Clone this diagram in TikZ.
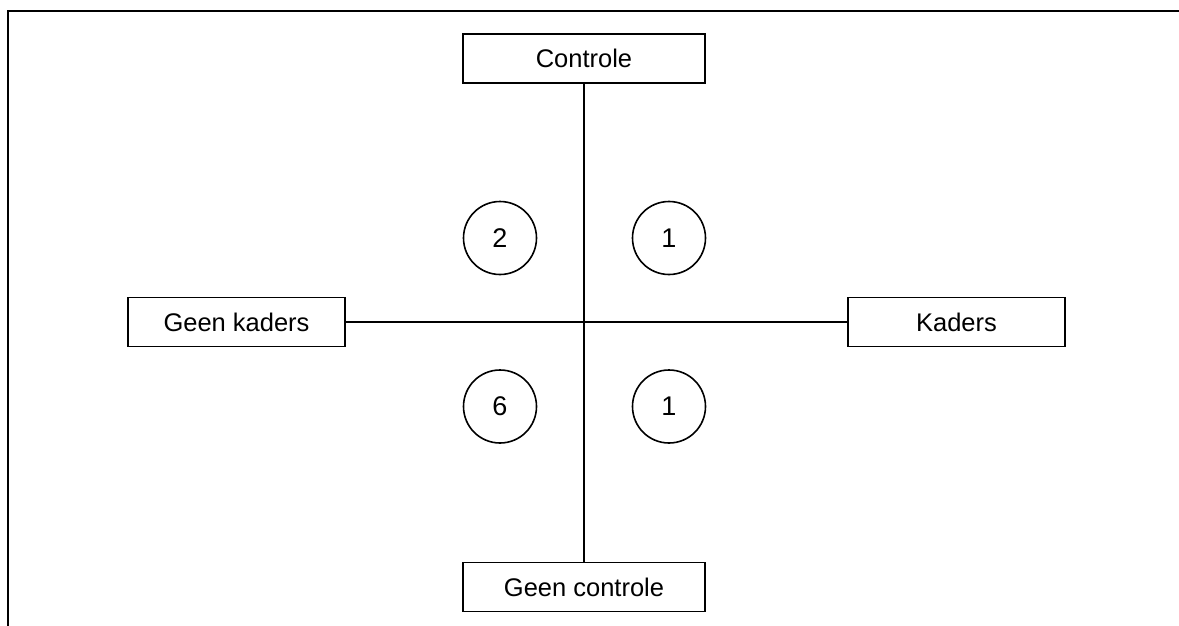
\documentclass[tikz,border=0pt]{standalone}
\usepackage{fontspec}
\setmainfont{Liberation Sans}
\usetikzlibrary{positioning}

\begin{document}
\begin{tikzpicture}[x=1pt, y=-1pt,
    box/.style={draw, line width=1.6pt, rectangle, inner sep=0pt,
      minimum height=49pt, font=\fontsize{25.5}{30}\selectfont},
    num/.style={draw, line width=1.6pt, circle, inner sep=0pt,
      minimum size=73pt, font=\fontsize{27}{32}\selectfont}]
  \useasboundingbox (0,0) rectangle (1179,626);

  % frame
  \draw [line width=2.5pt] (8,626) -- (8,11) -- (1179,11);

  \node [box, minimum width=242pt] (Ctrl)     at (584,58.5)  {Controle};
  \node [box, minimum width=242pt] (GeenCtrl) at (584,587)   {Geen controle};
  \node [box, minimum width=217pt] (GeenKad)  at (236.5,322) {Geen kaders};
  \node [box, minimum width=217pt] (Kad)      at (956.5,322) {Kaders};

  \draw [line width=1.6pt] (Ctrl) -- (GeenCtrl);
  \draw [line width=1.6pt] (GeenKad) -- (Kad);

  \node [num] (TopLeft)  at (500,238)   {2};
  \node [num] (TopRight) at (669,238)   {1};
  \node [num] (BotLeft)  at (500,406.5) {6};
  \node [num] (BotRight) at (669,406.5) {1};
\end{tikzpicture}
\end{document}
